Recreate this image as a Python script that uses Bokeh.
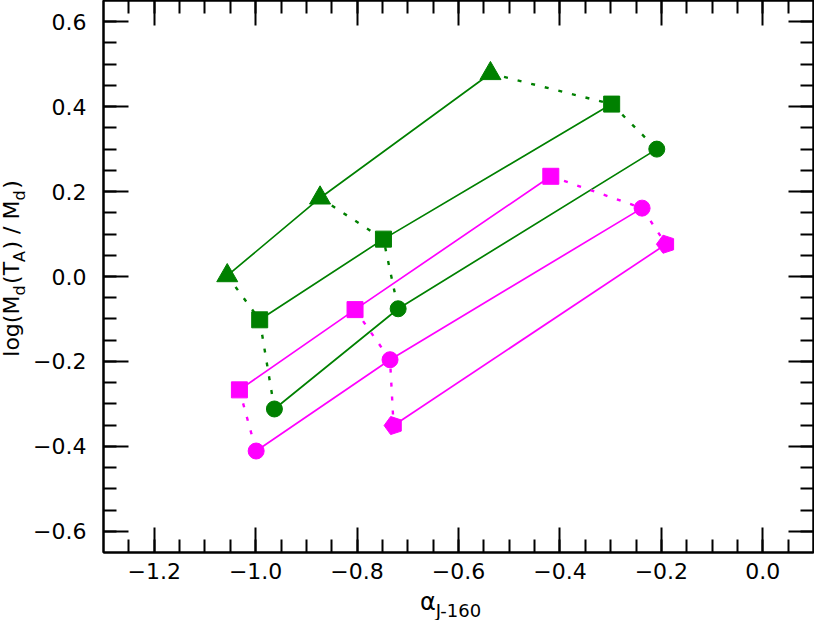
import numpy as np
from bokeh.plotting import figure
from bokeh.layouts import row, column
from bokeh.models import FixedTicker, LinearAxis, Range1d
from bokeh.core.properties import value
from bokeh.embed import file_html
from bokeh.resources import INLINE

# ---------------- data ----------------
green_tri_x = [-1.056, -0.873, -0.537]
green_tri_y = [0.002, 0.185, 0.478]
green_sq_x = [-0.992, -0.748, -0.298]
green_sq_y = [-0.102, 0.088, 0.406]
green_circ_x = [-0.963, -0.719, -0.209]
green_circ_y = [-0.312, -0.076, 0.300]
mag_sq_x = [-1.032, -0.804, -0.418]
mag_sq_y = [-0.267, -0.078, 0.236]
mag_circ_x = [-0.999, -0.735, -0.238]
mag_circ_y = [-0.411, -0.196, 0.161]
mag_pent_x = [-0.728, -0.191]
mag_pent_y = [-0.351, 0.076]

x_ticks = [-1.2, -1.0, -0.8, -0.6, -0.4, -0.2, 0.0]
x_tick_labels = ["\u22121.2", "\u22121.0", "\u22120.8", "\u22120.6", "\u22120.4", "\u22120.2", "0.0"]
y_ticks = [-0.6, -0.4, -0.2, 0.0, 0.2, 0.4, 0.6]
y_tick_labels = ["\u22120.6", "\u22120.4", "\u22120.2", "0.0", "0.2", "0.4", "0.6"]

GREEN = "#008000"
MAGENTA = "#ff00ff"
FONT = "DejaVu Sans"

TOTAL_W, TOTAL_H = 814, 620
YLAB_W = 30
MAIN_H = 588
FRAME_LEFT = 102

p = figure(width=TOTAL_W - YLAB_W, height=MAIN_H, x_range=(-1.3, 0.1), y_range=(-0.65, 0.65),
           output_backend="svg", toolbar_location=None,
           min_border_left=FRAME_LEFT - YLAB_W, min_border_right=1, min_border_top=0,
           min_border_bottom=36)
p.xgrid.visible = False
p.ygrid.visible = False
p.outline_line_color = "black"
p.outline_line_width = 2

x_minor = [round(v, 2) for v in np.arange(-1.25, 0.0501, 0.05)]
y_minor = [round(v, 2) for v in np.arange(-0.6, 0.6001, 0.05)]
xticker = FixedTicker(ticks=x_ticks, minor_ticks=x_minor)
yticker = FixedTicker(ticks=y_ticks, minor_ticks=y_minor)

def style_axis(ax, ticker, labels=None, standoff=0):
    ax.ticker = ticker
    ax.axis_line_color = "black"
    ax.axis_line_width = 2
    ax.major_tick_in = 25
    ax.major_tick_out = 0
    ax.minor_tick_in = 13
    ax.minor_tick_out = 0
    ax.major_tick_line_width = 2
    ax.minor_tick_line_width = 2
    ax.major_tick_line_color = "black"
    ax.minor_tick_line_color = "black"
    ax.major_label_standoff = standoff
    ax.axis_label = None
    if labels is None:
        ax.major_label_text_font_size = "0px"
        ax.major_label_text_alpha = 0
    else:
        ax.major_label_overrides = dict(zip(ticker.ticks, labels))
        ax.major_label_text_font = FONT
        ax.major_label_text_font_size = "22px"
        ax.major_label_text_color = "black"

style_axis(p.xaxis[0], xticker, x_tick_labels, standoff=10)
style_axis(p.yaxis[0], yticker, y_tick_labels, standoff=17)
top = LinearAxis()
right = LinearAxis()
style_axis(top, xticker)
style_axis(right, yticker)
p.add_layout(top, "above")
p.add_layout(right, "right")

# ---- lines ----
LW = 1.7
for xs, ys, c in [(green_tri_x, green_tri_y, GREEN), (green_sq_x, green_sq_y, GREEN),
                  (green_circ_x, green_circ_y, GREEN), (mag_sq_x, mag_sq_y, MAGENTA),
                  (mag_circ_x, mag_circ_y, MAGENTA), (mag_pent_x, mag_pent_y, MAGENTA)]:
    p.line(xs, ys, line_color=c, line_width=LW)

g_dx = [[green_tri_x[i], green_sq_x[i], green_circ_x[i]] for i in range(3)]
g_dy = [[green_tri_y[i], green_sq_y[i], green_circ_y[i]] for i in range(3)]
p.multi_line(g_dx, g_dy, line_color=GREEN, line_width=2.4, line_dash="4 10")
m_dx, m_dy = [], []
for i in range(3):
    xs = [mag_sq_x[i], mag_circ_x[i]]
    ys = [mag_sq_y[i], mag_circ_y[i]]
    if i >= 1:
        xs.append(mag_pent_x[i - 1])
        ys.append(mag_pent_y[i - 1])
    m_dx.append(xs)
    m_dy.append(ys)
p.multi_line(m_dx, m_dy, line_color=MAGENTA, line_width=2.4, line_dash="4 10")

# ---- markers ----
p.scatter(green_tri_x, green_tri_y, marker="triangle", size=21, fill_color=GREEN, line_color=GREEN)
p.scatter(green_sq_x, green_sq_y, marker="square", size=16, fill_color=GREEN, line_color=GREEN)
p.scatter(green_circ_x, green_circ_y, marker="circle", size=16, fill_color=GREEN, line_color=GREEN)
p.scatter(mag_sq_x, mag_sq_y, marker="square", size=16, fill_color=MAGENTA, line_color=MAGENTA)
p.scatter(mag_circ_x, mag_circ_y, marker="circle", size=16, fill_color=MAGENTA, line_color=MAGENTA)
p.ngon(x=mag_pent_x, y=mag_pent_y, radius=9.5, radius_units="screen", n=5, angle=np.pi / 2,
       fill_color=MAGENTA, line_color=MAGENTA)

# ---- axis label panels ----
def label_fig(w, h, x_range):
    f = figure(width=w, height=h, x_range=x_range, y_range=Range1d(0, h),
               output_backend="svg", toolbar_location=None, x_axis_type=None, y_axis_type=None,
               min_border=0, min_border_left=0, min_border_right=0, min_border_top=0,
               min_border_bottom=0)
    f.outline_line_color = None
    f.xgrid.visible = False
    f.ygrid.visible = False
    return f

W = {"l": 0.278, "o": 0.612, "g": 0.635, "(": 0.390, "M": 0.863, "d": 0.635, "T": 0.611,
     "A": 0.684, ")": 0.390, " ": 0.318, "/": 0.337}

def twidth(s, size):
    return sum(W[ch] for ch in s) * size

SHIFT = 0.33  # rendered baseline sits this many em lower than the anchor

def put(f, txt, x, y, size, angle=0.0):
    f.text(x=[x], y=[y], text=[txt], angle=angle, text_font=value(FONT),
           text_font_size=value(f"{size}px"), text_align="left", text_baseline="alphabetic",
           text_color="black")

# y label: log(M_d(T_A) / M_d), reading upwards
ylab = label_fig(YLAB_W, MAIN_H, Range1d(0, YLAB_W))
MAIN, SUB = 22, 16
y_parts = [("log(M", False), ("d", True), ("(T", False), ("A", True), (") / M", False), ("d", True), (")", False)]
total = sum(twidth(t, SUB if s else MAIN) + (1.5 if s else 0) for t, s in y_parts)
ypos = (MAIN_H - 268.0) - total / 2
for txt, sub in y_parts:
    size = SUB if sub else MAIN
    base = 24.0 if sub else 18.0
    put(ylab, txt, base - SHIFT * size, ypos, size, angle=np.pi / 2)
    ypos += twidth(txt, size) + (1.5 if sub else 0)

# x label: alpha_{J-160}
XLAB_H = TOTAL_H - MAIN_H
xlab = label_fig(TOTAL_W - YLAB_W, XLAB_H, p.x_range)
put(xlab, "\u03b1", -0.676, (TOTAL_H - 609) + SHIFT * 24, 24)
put(xlab, "J-160", -0.645, (TOTAL_H - 616) + SHIFT * 18, 18)

layout = row(ylab, column(p, xlab, spacing=0), spacing=0)
open("out.html", "w").write(file_html(layout, INLINE))
